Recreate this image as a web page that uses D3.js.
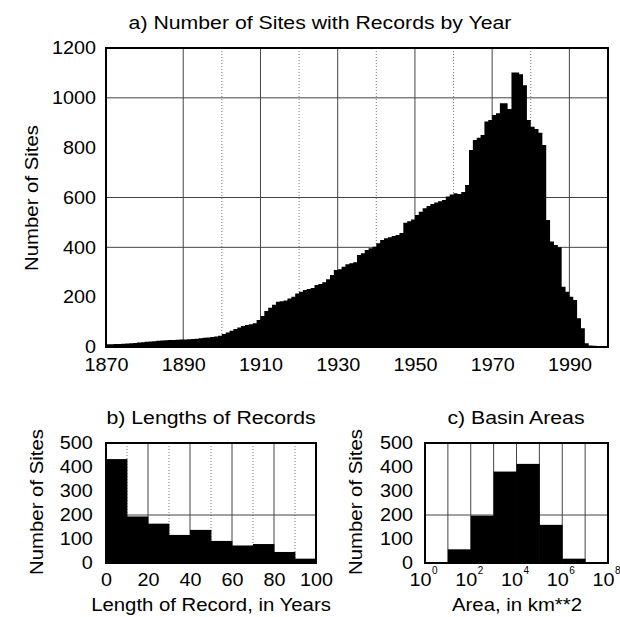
<!DOCTYPE html>
<html>
<head>
<meta charset="utf-8">
<script src="https://cdn.jsdelivr.net/npm/d3@7"></script>
<style>
  body { margin: 0; background: #fff; }
  svg text { font-family: 'Liberation Sans', Arial, Helvetica, sans-serif; fill: #000; }
</style>
</head>
<body>
<svg id="graph" width="620" height="617"></svg>
<script>
/*******************************************************************************************/
// Data

var firstYear = 1870;
var siteCounts = [
  11, 11, 12, 12, 13, 14, 15, 16, 18, 19,            // 1870s
  21, 22, 23, 25, 26, 27, 28, 28, 29, 30,            // 1880s
  30, 31, 32, 33, 35, 37, 38, 40, 42, 45,            // 1890s
  52, 58, 65, 72, 78, 84, 88, 91, 95, 108,           // 1900s
  124, 144, 158, 170, 182, 184, 187, 195, 202, 215,  // 1910s
  222, 229, 233, 237, 249, 253, 260, 272, 289, 309,  // 1920s
  312, 322, 332, 336, 340, 369, 376, 389, 396, 402,  // 1930s
  416, 429, 436, 440, 445, 450, 458, 499, 505, 512,  // 1940s
  530, 543, 557, 566, 574, 580, 585, 590, 604, 612,  // 1950s
  617, 614, 622, 650, 791, 831, 840, 851, 905, 911,  // 1960s
  931, 938, 978, 978, 955, 1102, 1102, 1095, 1051, 911, // 1970s
  884, 875, 860, 811, 510, 423, 409, 400, 242, 222,  // 1980s
  202, 189, 115, 75, 15, 6, 5, 4, 4, 3               // 1990s
];
var yearTicks = [1870, 1890, 1910, 1930, 1950, 1970, 1990];
var yearDotted = [1900, 1920, 1940, 1960, 1980];
var siteTicks = [0, 200, 400, 600, 800, 1000, 1200];
var siteGrid = [400, 600, 1000];

var lengthBins = [0, 10, 20, 30, 40, 50, 60, 70, 80, 90];
var lengthCounts = [433, 194, 164, 117, 138, 92, 73, 79, 46, 18];
var lengthTicks = [0, 20, 40, 60, 80, 100];

var areaExponents = [0, 1, 2, 3, 4, 5, 6, 7];
var areaCounts = [0, 57, 197, 381, 413, 159, 18, 0];
var areaTickExponents = [0, 2, 4, 6, 8];

var smallTicks = [0, 100, 200, 300, 400, 500];

/*******************************************************************************************/
// Helpers

var svg = d3.select('#graph');
var STRETCH = 1.1;

function label(txt, x, y, size, rotate, stretch){
  return svg.append('text')
    .attr('transform', 'translate(' + x + ',' + y + ')' + (rotate ? ' rotate(-90)' : '') + ' scale(' + (stretch || STRETCH) + ',1)')
    .attr('text-anchor', 'middle')
    .style('font-size', size + 'px')
    .text(txt);
}

function vgrid(g, xs, values, y0, y1, dotted){
  g.selectAll(null).data(values).enter().append('line')
    .attr('x1', d => xs(d)).attr('x2', d => xs(d))
    .attr('y1', y0).attr('y2', y1)
    .style('stroke', dotted ? '#777' : '#444')
    .style('stroke-width', 1)
    .style('stroke-dasharray', dotted ? '1,2' : null);
}

function hgrid(g, ys, values, x0, x1){
  g.selectAll(null).data(values).enter().append('line')
    .attr('x1', x0).attr('x2', x1)
    .attr('y1', d => ys(d)).attr('y2', d => ys(d))
    .style('stroke', '#444').style('stroke-width', 1);
}

function frame(g, x0, y0, x1, y1){
  g.append('rect').attr('x', x0).attr('y', y0).attr('width', x1 - x0).attr('height', y1 - y0)
    .style('fill', 'none').style('stroke', '#000').style('stroke-width', 2);
}

function styleAxis(sel, size){
  sel.select('.domain').remove();
  sel.selectAll('text').style('font-size', size + 'px').attr('fill', '#000')
    .attr('transform', 'scale(' + STRETCH + ',1)');
}

/*******************************************************************************************/
// a) Number of sites by year

var xA = d3.scaleLinear().domain([1870, 2000]).range([106, 608]);
var yA = d3.scaleLinear().domain([0, 1200]).range([347, 48]);
var gA = svg.append('g');

vgrid(gA, xA, yearTicks.slice(1), 48, 347, false);
vgrid(gA, xA, yearDotted, 48, 347, true);
hgrid(gA, yA, siteGrid, 106, 608);

// step outline of the yearly counts, closed at the last year's right edge
var stepData = siteCounts.map((d, i) => ({ year: firstYear + i, v: d }));
stepData.push({ year: firstYear + siteCounts.length, v: siteCounts[siteCounts.length - 1] });

var areaA = d3.area()
  .x(d => xA(d.year))
  .y0(yA(0))
  .y1(d => yA(d.v))
  .curve(d3.curveStepAfter);

gA.append('path').attr('d', areaA(stepData)).style('fill', '#000');

frame(gA, 106, 48, 608, 347);

gA.append('g').attr('transform', 'translate(106,0)')
  .call(d3.axisLeft(yA).tickValues(siteTicks).tickSize(0).tickPadding(9).tickFormat(d3.format('d')))
  .call(s => styleAxis(s, 18));
gA.append('g').attr('transform', 'translate(0,347)')
  .call(d3.axisBottom(xA).tickValues(yearTicks).tickSize(0).tickPadding(11).tickFormat(d3.format('d')))
  .call(s => styleAxis(s, 18));

label('a) Number of Sites with Records by Year', 320, 29, 18.5, false, 1.15);
label('Number of Sites', 38, 198, 18.5, true);

/*******************************************************************************************/
// b) Lengths of records

var xB = d3.scaleLinear().domain([0, 100]).range([106, 316]);
var yB = d3.scaleLinear().domain([0, 500]).range([563, 443]);
var gB = svg.append('g');

vgrid(gB, xB, [20, 40, 60, 80], 443, 563, false);
vgrid(gB, xB, [10, 30, 50, 70, 90], 443, 563, true);
hgrid(gB, yB, [200], 106, 316);

gB.selectAll('.barB').data(lengthCounts).enter().append('rect')
  .attr('class', 'barB')
  .attr('x', (d, i) => xB(lengthBins[i]))
  .attr('width', (d, i) => xB(lengthBins[i] + 10) - xB(lengthBins[i]) + 0.4)
  .attr('y', d => yB(d))
  .attr('height', d => yB(0) - yB(d))
  .style('fill', '#000');

frame(gB, 106, 443, 316, 563);

gB.append('g').attr('transform', 'translate(106,0)')
  .call(d3.axisLeft(yB).tickValues(smallTicks).tickSize(0).tickPadding(12))
  .call(s => styleAxis(s, 18));
gB.append('g').attr('transform', 'translate(0,563)')
  .call(d3.axisBottom(xB).tickValues(lengthTicks).tickSize(0).tickPadding(10))
  .call(s => styleAxis(s, 18));

label('b) Lengths of Records', 211, 424, 18.5, false, 1.15);
label('Number of Sites', 43, 502, 18.5, true);
label('Length of Record, in Years', 211, 611, 18.5, false);

/*******************************************************************************************/
// c) Basin areas

var xC = d3.scaleLog().domain([1, 1e8]).range([425, 608]);
var yC = d3.scaleLinear().domain([0, 500]).range([563, 443]);
var gC = svg.append('g');

vgrid(gC, xC, areaExponents.slice(1).map(e => Math.pow(10, e)), 443, 563, false);
hgrid(gC, yC, [200], 425, 608);

gC.selectAll('.barC').data(areaCounts).enter().append('rect')
  .attr('class', 'barC')
  .attr('x', (d, i) => xC(Math.pow(10, areaExponents[i])))
  .attr('width', (d, i) => xC(Math.pow(10, areaExponents[i] + 1)) - xC(Math.pow(10, areaExponents[i])) + 0.4)
  .attr('y', d => yC(d))
  .attr('height', d => yC(0) - yC(d))
  .style('fill', '#000');

frame(gC, 425, 443, 608, 563);

gC.append('g').attr('transform', 'translate(425,0)')
  .call(d3.axisLeft(yC).tickValues(smallTicks).tickSize(0).tickPadding(11))
  .call(s => styleAxis(s, 18));

var cTicks = gC.selectAll('.ctick').data(areaTickExponents).enter().append('g')
  .attr('class', 'ctick')
  .attr('transform', d => 'translate(' + xC(Math.pow(10, d)) + ',586)');
cTicks.append('text').attr('text-anchor', 'middle').attr('x', -4)
  .attr('transform', 'scale(' + STRETCH + ',1)')
  .style('font-size', '18px').text('10');
cTicks.append('text').attr('text-anchor', 'start').attr('x', 7).attr('y', -12)
  .style('font-size', '10px').text(d => d);

label('c) Basin Areas', 516, 424, 18.5, false, 1.15);
label('Number of Sites', 362, 502, 18.5, true);
label('Area, in km**2', 517, 611, 18.5, false);
</script>
</body>
</html>
